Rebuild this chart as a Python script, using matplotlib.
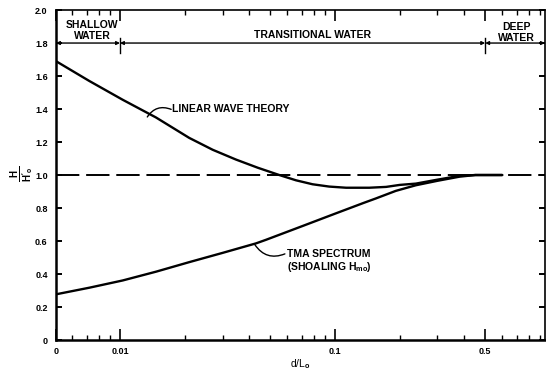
import matplotlib
matplotlib.use("Agg")
import matplotlib.pyplot as plt
from matplotlib.ticker import FixedLocator, LogLocator, NullFormatter

plt.rcParams["font.family"] = ["Liberation Sans", "DejaVu Sans"]
plt.rcParams["font.weight"] = "bold"
plt.rcParams["mathtext.fontset"] = "custom"
plt.rcParams["mathtext.rm"] = "Liberation Sans:bold"
plt.rcParams["mathtext.it"] = "Liberation Sans:bold"
plt.rcParams["mathtext.bf"] = "Liberation Sans:bold"

# --- data (d/Lo on log axis, "0" = left edge) ---
linear_x = [0.00504, 0.0072, 0.0103, 0.0147, 0.021, 0.027, 0.0346, 0.0438, 0.0551,
            0.0659, 0.0787, 0.094, 0.1127, 0.1445, 0.173, 0.2, 0.238, 0.3,
            0.38, 0.45, 0.6]
linear_y = [1.69, 1.57, 1.456, 1.349, 1.225, 1.153, 1.094, 1.044, 1.0,
            0.968, 0.944, 0.93, 0.923, 0.923, 0.928, 0.94, 0.948, 0.972,
            0.995, 1.0, 1.0]

tma_x = [0.00504, 0.0072, 0.0103, 0.0147, 0.021, 0.03, 0.043, 0.0477, 0.0707,
         0.1007, 0.136, 0.155, 0.192, 0.238, 0.3, 0.38, 0.45, 0.6]
tma_y = [0.277, 0.317, 0.361, 0.414, 0.472, 0.528, 0.586, 0.607, 0.691,
         0.767, 0.831, 0.858, 0.904, 0.938, 0.965, 0.99, 1.0, 1.0]

x_ticks = [0.00504, 0.01, 0.1, 0.5]
x_tick_labels = ["0", "0.01", "0.1", "0.5"]
y_ticks = [0, 0.2, 0.4, 0.6, 0.8, 1.0, 1.2, 1.4, 1.6, 1.8, 2.0]
y_tick_labels = ["0", "0.2", "0.4", "0.6", "0.8", "1.0", "1.2", "1.4", "1.6", "1.8", "2.0"]

XMIN, XMAX = 0.00504, 0.948
zone_bounds = [XMIN, 0.01, 0.5, XMAX]

fig = plt.figure(figsize=(5.46, 3.72), dpi=100)
ax = fig.add_axes([0.1026, 0.086, 0.8954, 0.887])

ax.set_xscale("log")
ax.set_xlim(XMIN, XMAX)
ax.set_ylim(0, 2.0)

# curves
ax.plot(linear_x, linear_y, color="black", lw=1.7, solid_capstyle="round",
        solid_joinstyle="round")
ax.plot(tma_x, tma_y, color="black", lw=1.7, solid_capstyle="round",
        solid_joinstyle="round")
ax.axhline(1.0, color="black", lw=1.4, dashes=(12, 3.5))

# zone line at 1.8
for a, b in zip(zone_bounds[:-1], zone_bounds[1:]):
    ax.annotate("", xy=(b, 1.8), xytext=(a, 1.8),
                arrowprops=dict(arrowstyle="<|-|>", lw=1.0, color="black",
                                mutation_scale=5, shrinkA=0, shrinkB=0))
for b in zone_bounds[1:-1]:
    ax.plot([b, b], [1.74, 1.83], color="black", lw=1.0)

fs = 7.5
ax.text(0.0074, 1.91, "SHALLOW", ha="center", va="center", fontsize=fs)
ax.text(0.0074, 1.84, "WATER", ha="center", va="center", fontsize=fs)
ax.text(0.079, 1.85, "TRANSITIONAL WATER", ha="center", va="center", fontsize=fs)
ax.text(0.70, 1.90, "DEEP", ha="center", va="center", fontsize=fs)
ax.text(0.70, 1.83, "WATER", ha="center", va="center", fontsize=fs)

# annotations with hand-drawn style leaders
ax.annotate("", xy=(0.0134, 1.352), xytext=(0.0173, 1.398),
            arrowprops=dict(arrowstyle="-", lw=1.0, color="black",
                            connectionstyle="arc3,rad=0.4", shrinkA=0, shrinkB=0))
ax.text(0.0174, 1.398, "LINEAR WAVE THEORY", ha="left", va="center", fontsize=fs)

ax.annotate("", xy=(0.0424, 0.578), xytext=(0.0585, 0.522),
            arrowprops=dict(arrowstyle="-", lw=1.0, color="black",
                            connectionstyle="arc3,rad=-0.4", shrinkA=0, shrinkB=0))
ax.text(0.0598, 0.522, "TMA SPECTRUM", ha="left", va="center", fontsize=fs)
ax.text(0.0598, 0.44, "(SHOALING H$_{mo}$)", ha="left", va="center", fontsize=fs)

# ticks
ax.xaxis.set_major_locator(FixedLocator(x_ticks))
ax.set_xticklabels(x_tick_labels)
ax.xaxis.set_minor_locator(LogLocator(base=10, subs=range(2, 10)))
ax.xaxis.set_minor_formatter(NullFormatter())
ax.set_yticks(y_ticks)
ax.set_yticklabels(y_tick_labels)

ax.tick_params(axis="x", which="major", direction="in", top=True, length=8,
               width=1.2, labelsize=6.5, pad=5)
ax.tick_params(axis="x", which="minor", direction="in", top=True, length=3.5,
               width=1.0)
ax.tick_params(axis="y", which="major", direction="in", right=True, length=4,
               width=1.4, labelsize=6.5, pad=6)

for side in ["left", "bottom"]:
    ax.spines[side].set_linewidth(1.8)
for side in ["top", "right"]:
    ax.spines[side].set_linewidth(1.2)

ax.set_xlabel("d/L$_{o}$", fontsize=7.5, labelpad=1)
fig.text(0.04, 0.532, r"$\frac{H}{H'_o}$", rotation=90, ha="center", va="center",
         fontsize=10)

fig.savefig("out.png", dpi=100)
